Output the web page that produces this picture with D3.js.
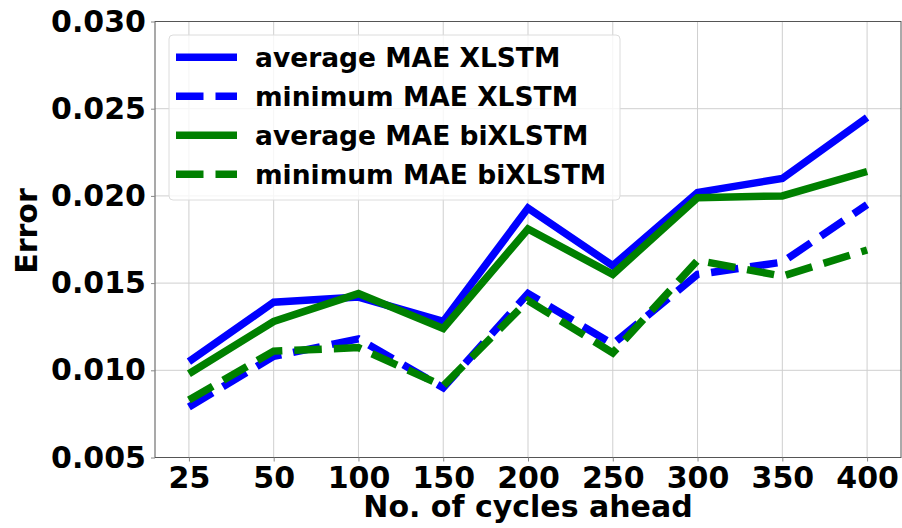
<!DOCTYPE html>
<html>
<head>
<meta charset="utf-8">
<script src="https://cdn.jsdelivr.net/npm/d3@7"></script>
<style>
  html, body { margin: 0; padding: 0; background: #fff; }
  svg { display: block; }
  text { font-family: "DejaVu Sans", sans-serif; font-weight: bold; fill: #000; }
</style>
</head>
<body>
<svg id="chart" width="902" height="528"></svg>
<script>
const categories = ["25", "50", "100", "150", "200", "250", "300", "350", "400"];
const avgXLSTM   = [0.0105, 0.0139, 0.0142, 0.0128, 0.0193, 0.0160, 0.0202, 0.0210, 0.0245];
const minXLSTM   = [0.0079, 0.0108, 0.0118, 0.0090, 0.0144, 0.0115, 0.0155, 0.0162, 0.0195];
const avgBiXLSTM = [0.0098, 0.0128, 0.0144, 0.0124, 0.0181, 0.0155, 0.0199, 0.0200, 0.0214];
const minBiXLSTM = [0.0083, 0.0111, 0.0113, 0.0091, 0.0140, 0.0110, 0.0163, 0.0154, 0.0169];
const yTicks = [0.005, 0.010, 0.015, 0.020, 0.025, 0.030];
const seriesNames = ["average MAE XLSTM", "minimum MAE XLSTM", "average MAE biXLSTM", "minimum MAE biXLSTM"];
const xLabel = "No. of cycles ahead";
const yLabel = "Error";

const series = [
  { name: seriesNames[0], values: avgXLSTM,   color: "#0000ff", dash: null },
  { name: seriesNames[1], values: minXLSTM,   color: "#0000ff", dash: "27.5,12" },
  { name: seriesNames[2], values: avgBiXLSTM, color: "#008000", dash: null },
  { name: seriesNames[3], values: minBiXLSTM, color: "#008000", dash: "27.5,12" }
];

const L = 155, R = 901, T = 21.5, B = 457.5;
const svg = d3.select("#chart");

const x = d3.scaleLinear().domain([-0.4, categories.length - 1 + 0.4]).range([L, R]);
const y = d3.scaleLinear().domain([0.005, 0.030]).range([B, T]);

// grid
const grid = svg.append("g");
grid.selectAll("line.vx").data(categories.map((c, i) => i)).enter().append("line")
  .attr("x1", d => x(d)).attr("x2", d => x(d)).attr("y1", T).attr("y2", B)
  .attr("stroke", "#cfcfcf").attr("stroke-width", 1);
grid.selectAll("line.hy").data(yTicks).enter().append("line")
  .attr("x1", L).attr("x2", R).attr("y1", d => y(d)).attr("y2", d => y(d))
  .attr("stroke", "#cfcfcf").attr("stroke-width", 1);

// lines
const line = d3.line().x((d, i) => x(i)).y(d => y(d));
const lines = svg.append("g");
series.forEach(s => {
  lines.append("path")
    .attr("d", line(s.values))
    .attr("fill", "none")
    .attr("stroke", s.color)
    .attr("stroke-width", 7.5)
    .attr("stroke-linejoin", "miter")
    .attr("stroke-linecap", "butt")
    .attr("stroke-dasharray", s.dash);
});

// frame
svg.append("rect").attr("x", L).attr("y", T).attr("width", R - L).attr("height", B - T)
  .attr("fill", "none").attr("stroke", "#555").attr("stroke-width", 1);

// axes
const xAxis = d3.axisBottom(x)
  .tickValues(categories.map((c, i) => i))
  .tickFormat(i => categories[i])
  .tickSize(4).tickPadding(5);
const gx = svg.append("g").attr("transform", `translate(0,${B})`).call(xAxis);
gx.select(".domain").remove();
gx.selectAll(".tick line").attr("stroke", "#888");
gx.selectAll(".tick text").style("font-size", "30px").style("font-family", "DejaVu Sans").style("font-weight", "bold").attr("fill", "#000");

const yAxis = d3.axisLeft(y)
  .tickValues(yTicks)
  .tickFormat(d3.format(".3f"))
  .tickSize(4).tickPadding(5);
const gy = svg.append("g").attr("transform", `translate(${L},0)`).call(yAxis);
gy.select(".domain").remove();
gy.selectAll(".tick line").attr("stroke", "#888");
gy.selectAll(".tick text").style("font-size", "30px").style("font-family", "DejaVu Sans").style("font-weight", "bold").attr("fill", "#000");

// axis labels
svg.append("text").attr("x", (L + R) / 2).attr("y", 517)
  .attr("text-anchor", "middle").style("font-size", "30px").text(xLabel);
svg.append("text").attr("transform", "translate(37,231) rotate(-90)")
  .attr("text-anchor", "middle").style("font-size", "30px").text(yLabel);

// legend
const lg = svg.append("g");
lg.append("rect").attr("x", 169).attr("y", 35).attr("width", 451).attr("height", 165)
  .attr("rx", 4).attr("fill", "rgba(255,255,255,0.8)").attr("stroke", "#dcdcdc").attr("stroke-width", 1);
series.forEach((s, i) => {
  const cy = 57.3 + i * 39;
  lg.append("line").attr("x1", 176).attr("x2", 237).attr("y1", cy).attr("y2", cy)
    .attr("stroke", s.color).attr("stroke-width", 7.5).attr("stroke-dasharray", s.dash);
  lg.append("text").attr("x", 255).attr("y", cy + 9.5)
    .style("font-size", "26.5px").text(s.name);
});
</script>
</body>
</html>
